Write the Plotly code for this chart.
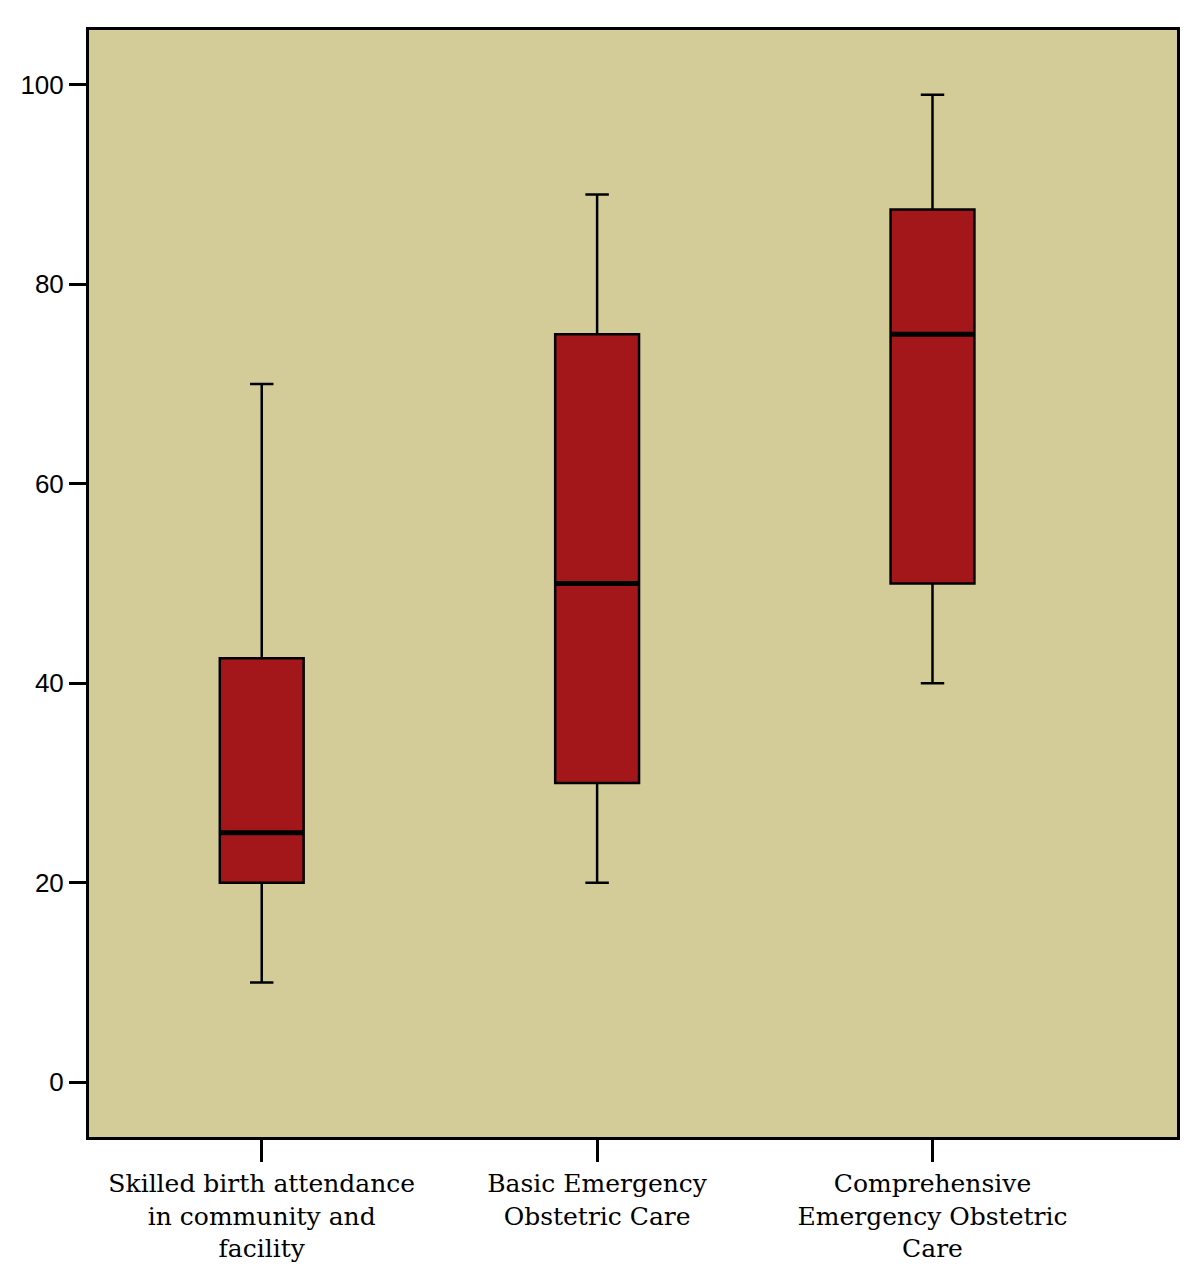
import plotly.graph_objects as go

categories = [
    "Skilled birth attendance<br>in community and<br>facility",
    "Basic Emergency<br>Obstetric Care",
    "Comprehensive<br>Emergency Obstetric<br>Care",
]
lower_whisker = [10, 20, 40]
q1_values = [20, 30, 50]
median_values = [25, 50, 75]
q3_values = [42.5, 75, 87.5]
upper_whisker = [70, 89, 99]
y_ticks = [0, 20, 40, 60, 80, 100]

positions = list(range(len(categories)))
box_width = 0.25

fig = go.Figure()
fig.add_trace(go.Box(
    x=positions,
    q1=q1_values,
    median=median_values,
    q3=q3_values,
    lowerfence=lower_whisker,
    upperfence=upper_whisker,
    width=box_width,
    whiskerwidth=0.28,
    fillcolor="#A3161A",
    line=dict(color="black", width=2.5),
    boxpoints=False,
    showlegend=False,
    hoverinfo="skip",
))

# thicker median lines
for p, m in zip(positions, median_values):
    fig.add_shape(type="line", xref="x", yref="y",
                  x0=p - box_width / 2, x1=p + box_width / 2, y0=m, y1=m,
                  line=dict(color="black", width=5))

fig.update_layout(
    width=1200, height=1280,
    margin=dict(l=79, r=31, t=22, b=151),
    paper_bgcolor="white",
    plot_bgcolor="#D3CC98",
    showlegend=False,
)
fig.update_xaxes(
    range=[-0.515, 2.729],
    tickmode="array", tickvals=positions, ticktext=categories,
    ticks="outside", ticklen=22, tickwidth=2.5, tickcolor="black",
    showline=True, linecolor="black", linewidth=3, mirror=True,
    showgrid=False, zeroline=False,
    tickfont=dict(family="DejaVu Serif", size=25, color="black"),
)
fig.update_yaxes(
    range=[-5.5, 105.5],
    tickmode="array", tickvals=y_ticks,
    ticks="outside", ticklen=17, tickwidth=2.5, tickcolor="black",
    showline=True, linecolor="black", linewidth=3, mirror=True,
    showgrid=False, zeroline=False,
    tickfont=dict(family="Liberation Sans", size=26, color="black"),
)

fig.write_html("out.html")
